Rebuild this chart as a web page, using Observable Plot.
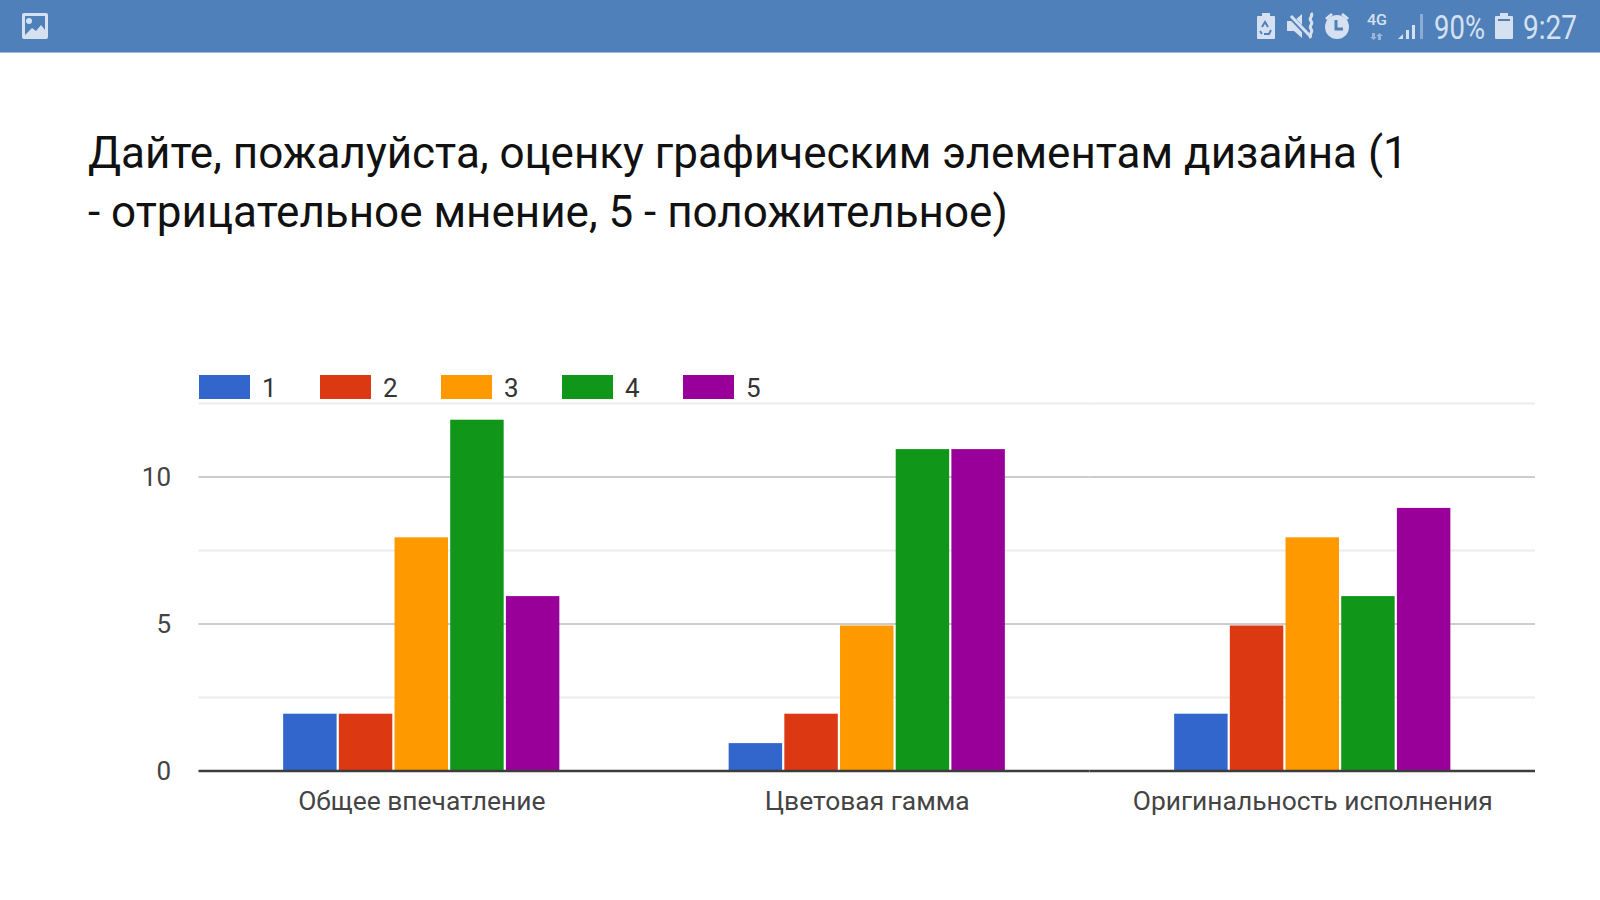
<!DOCTYPE html>
<html lang="ru">
<head>
<meta charset="utf-8">
<script src="https://cdn.jsdelivr.net/npm/d3@7"></script>
<script src="https://cdn.jsdelivr.net/npm/@observablehq/plot@0.6"></script>
<style>
html,body{margin:0;padding:0;background:#fff;overflow:hidden;width:1600px;height:900px;font-family:Roboto,sans-serif}
#status{display:block;width:1600px;height:53px}
#title{position:absolute;left:88px;top:124px;margin:0;font:400 44px/59px Roboto,sans-serif;color:#111;white-space:nowrap}
#legend{position:absolute;left:199px;top:374px;height:25px;display:flex}
.li{width:121px;display:flex;align-items:center}
.sw{width:51px;height:24px;margin-right:12px}
.lb{font:400 26px/25px Roboto,sans-serif;color:#333;position:relative;top:2px}
#chart{position:absolute;left:0;top:395px}
</style>
</head>
<body>
<svg id="status" viewBox="0 0 1600 53" xmlns="http://www.w3.org/2000/svg">
  <rect width="1600" height="53" fill="#5080BA"/>
  <rect y="52" width="1600" height="1" fill="#9DB8D8"/>
  <g fill="#D5E0F0">
    <path fill-rule="evenodd" d="M24 13h22a2 2 0 0 1 2 2v22a2 2 0 0 1-2 2H24a2 2 0 0 1-2-2V15a2 2 0 0 1 2-2zm1 3v19l7-7 4 3 5-6 4 5V16z"/>
    <circle cx="29" cy="21" r="3"/>
    <path d="M1262 13h8v3h4a1 1 0 0 1 1 1v21a1 1 0 0 1-1 1h-16a1 1 0 0 1-1-1V17a1 1 0 0 1 1-1h4z"/>
    <g fill="none" stroke="#5080BA" stroke-width="2"><path d="M1262 27l3-5 3 5M1271 30l-2 4h-5M1260 31l2 3"/></g>
    <path d="M1287 21h7l8-7v24l-8-7h-7z"/>
    <path d="M1288 14l22 23" stroke="#5080BA" stroke-width="5" fill="none"/>
    <path d="M1291 16l20 21" stroke="#D5E0F0" stroke-width="3" fill="none"/>
    <path d="M1311 13c3 3-3 5 0 8s-3 5 0 8 -3 5 0 9" stroke="#D5E0F0" stroke-width="3" fill="none"/>
    <circle cx="1337" cy="27" r="12"/>
    <path d="M1336 20v9h7" stroke="#5080BA" stroke-width="3" fill="none"/>
    <path d="M1325 18l6-5 2 2-6 5zM1349 18l-6-5-2 2 6 5z"/>
    <path d="M1372 33h3v4h2l-3.500 3-3.500-3h2zM1381 40h-3v-4h-2l3.500-3 3.500 3h-2z" opacity=".55"/>
    <path d="M1398 39l5-5v5z"/>
    <path d="M1406 39v-9h3v9z"/>
    <path d="M1412 39v-14h3v14z"/>
    <path d="M1420 39V14h3v25z" opacity=".45"/>
    <path fill-rule="evenodd" d="M1500 13h8v3h4a1 1 0 0 1 1 1v21a1 1 0 0 1-1 1h-16a1 1 0 0 1-1-1V17a1 1 0 0 1 1-1h4zm-2 6v2h12v-2z"/>
    <g font-family="Roboto,sans-serif">
      <text x="1367" y="25" font-size="14" font-weight="500" textLength="20" lengthAdjust="spacingAndGlyphs">4G</text>
      <text x="1434" y="39" font-size="33" textLength="51" lengthAdjust="spacingAndGlyphs">90%</text>
      <text x="1523" y="39" font-size="33" textLength="54" lengthAdjust="spacingAndGlyphs">9:27</text>
    </g>
  </g>
</svg>
<h1 id="title"><span>Дайте, пожалуйста, оценку графическим элементам дизайна (1</span><br><span>- отрицательное мнение, 5 - положительное)</span></h1>
<div id="legend"></div>
<div id="chart"></div>
<script>
const categories = ["Общее впечатление", "Цветовая гамма", "Оригинальность исполнения"];
const ratings = ["1", "2", "3", "4", "5"];
const colors = ["#3366CC", "#DC3912", "#FF9900", "#109618", "#990099"];
const values1 = [2, 2, 8, 12, 6];
const values2 = [1, 2, 5, 11, 11];
const values3 = [2, 5, 8, 6, 9];
const majorTicks = [0, 5, 10];
const majorGrid = [5, 10];
const minorGrid = [2.5, 7.5, 12.5];

const series = [values1, values2, values3];
const rows = categories.flatMap((category, i) =>
  ratings.map((rating, j) => ({category, rating, value: series[i][j]})));

d3.select("#legend").selectAll("div").data(ratings).join("div").attr("class", "li")
  .html((d, i) => `<span class="sw" style="background:${colors[i]}"></span><span class="lb">${d}</span>`);

const chart = Plot.plot({
  width: 1600,
  height: 505,
  marginLeft: 198.5,
  marginRight: 65,
  marginTop: 8,
  marginBottom: 129.5,
  style: {background: "transparent", fontFamily: "Roboto, sans-serif"},
  y: {domain: [0, 12.5], label: null},
  fx: {domain: categories, padding: 0, round: false, label: null},
  x: {domain: ratings, paddingInner: 0.04, paddingOuter: 1.52, round: false, axis: null},
  color: {domain: ratings, range: colors},
  marks: [
    Plot.ruleY(minorGrid, {stroke: "#ECECEC", strokeWidth: 2}),
    Plot.ruleY(majorGrid, {stroke: "#CCCCCC", strokeWidth: 2}),
    Plot.barY(rows, {fx: "category", x: "rating", y: "value", fill: "rating", insetTop: 2}),
    Plot.ruleY([0], {stroke: "#3C3C3C", strokeWidth: 2.5}),
    Plot.axisY({ticks: majorTicks, tickSize: 0, tickPadding: 28, dy: 1, label: null, fontSize: 26, color: "#444"}),
    Plot.axisFx({anchor: "bottom", tickSize: 0, tickPadding: 20, label: null, fontSize: 26.4, color: "#444", lineWidth: 30})
  ]
});
document.getElementById("chart").appendChild(chart);
</script>
</body>
</html>
